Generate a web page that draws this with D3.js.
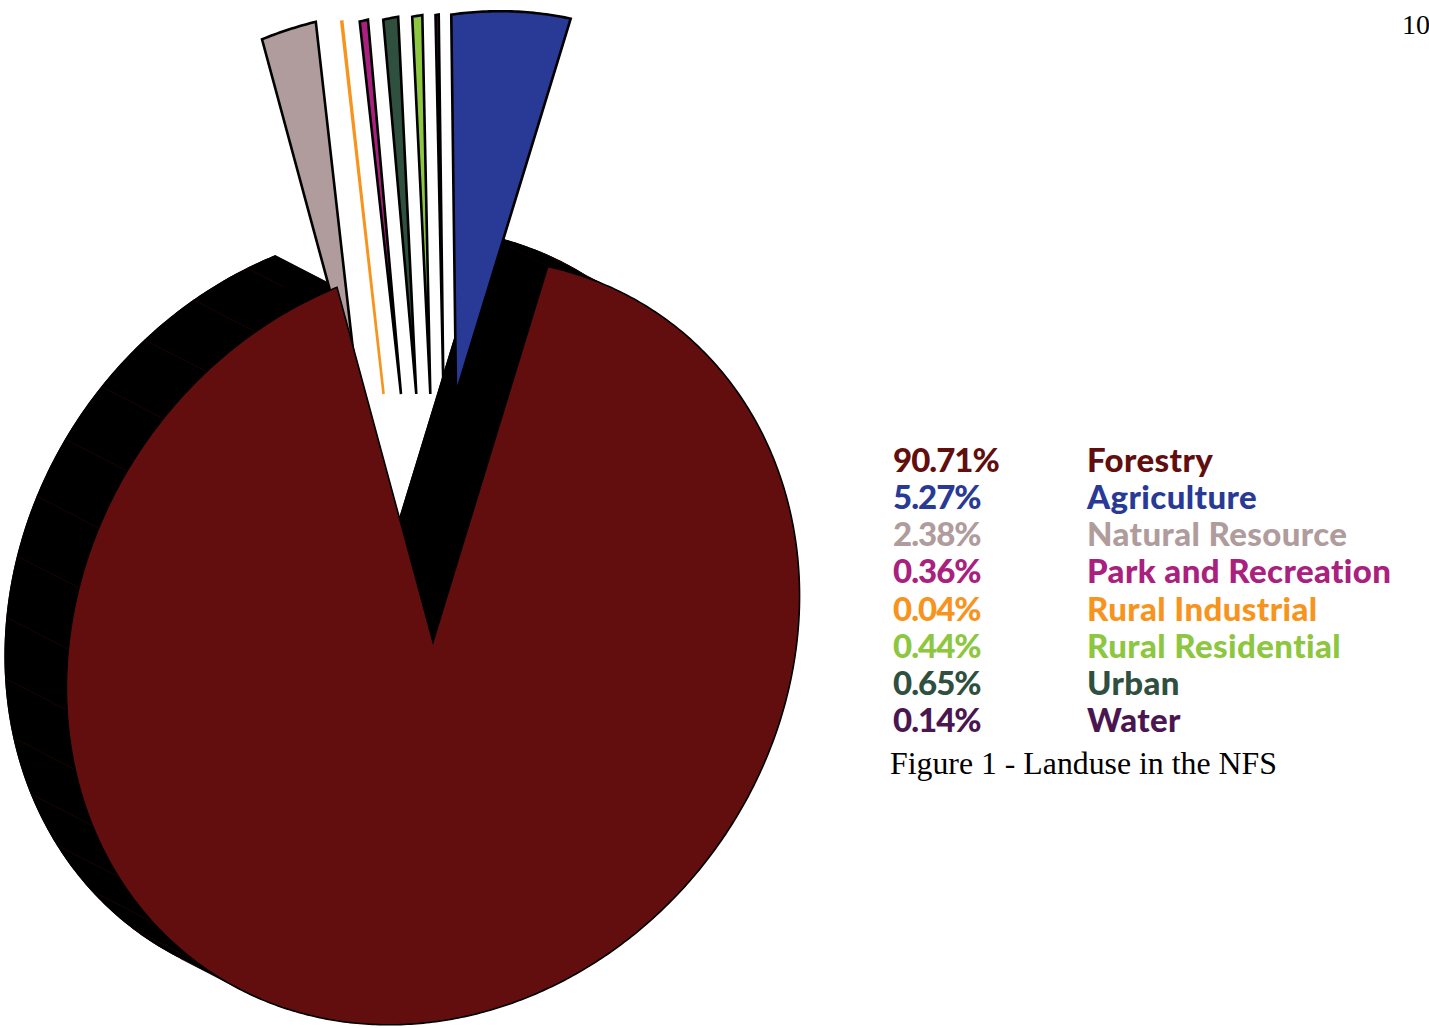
<!DOCTYPE html>
<html>
<head>
<meta charset="utf-8">
<script src="https://cdn.jsdelivr.net/npm/d3@7"></script>
<style>
  html, body { margin: 0; padding: 0; background: #ffffff; }
  svg { display: block; }
</style>
</head>
<body>
<svg id="chart" width="1429" height="1028"></svg>
<script>
// ---------------- DATA ----------------
const categories = ["Forestry", "Agriculture", "Natural Resource", "Park and Recreation",
                    "Rural Industrial", "Rural Residential", "Urban", "Water"];
const percentages = [90.71, 5.27, 2.38, 0.36, 0.04, 0.44, 0.65, 0.14];
// clockwise order of the slices in the pie, starting with the big one
const pieOrder = ["Forestry", "Natural Resource", "Rural Industrial", "Park and Recreation",
                  "Urban", "Rural Residential", "Water", "Agriculture"];
const captionText = "Figure 1 - Landuse in the NFS";
const pageNumber = "10";

// ---------------- STYLE / LAYOUT ----------------
const palette = ["#620E0E", "#283A96", "#B09C9C", "#A9207E", "#F7941D", "#8DC63F", "#30503F", "#4A1650"];
const color = d3.scaleOrdinal(categories, palette);

const W = 1429, H = 1028;
const center = [433, 642];          // apex of the main slice
const semiMajor = 398, semiMinor = 350;
const axisAngle = 54.9 * Math.PI / 180;   // tilt of the projected disc
const e1 = [Math.cos(axisAngle), -Math.sin(axisAngle)];
const e2 = [Math.sin(axisAngle), Math.cos(axisAngle)];
const rotation = -20.4 * Math.PI / 180;   // first slice start angle
const depth = [-62, -32];                 // extrusion of the 3D body
const explodeLift = 248;
const fanRange = [-75, 23];

const svg = d3.select("#chart");

function rim(t) {
  const c = Math.cos(t) * semiMajor, s = Math.sin(t) * semiMinor;
  return [c * e1[0] + s * e2[0], c * e1[1] + s * e2[1]];
}

const pie = d3.pie().sort(null).value(d => d.value);
const pieData = pieOrder.map(name => ({ name, value: percentages[categories.indexOf(name)] }));
const arcs = pie(pieData);
arcs.forEach(d => { d.t0 = d.startAngle + rotation; d.t1 = d.endAngle + rotation; });

const main = arcs[0];
const exploded = arcs.slice(1);
const fanX = d3.scalePow().exponent(0.75).domain([0, exploded.length - 1]).range(fanRange);
main.origin = center.slice();
exploded.forEach((d, i) => { d.origin = [center[0] + fanX(i), center[1] - explodeLift]; });

const step = Math.PI / 360;
function rimPoints(d, ta, tb, off) {
  const n = Math.max(1, Math.ceil(Math.abs(tb - ta) / step));
  const pts = [];
  for (let i = 0; i <= n; i++) {
    const t = ta + (tb - ta) * i / n;
    const p = rim(t);
    pts.push([d.origin[0] + p[0] + off[0], d.origin[1] + p[1] + off[1]]);
  }
  return pts;
}
function slicePoints(d, off = [0, 0]) {
  return [[d.origin[0] + off[0], d.origin[1] + off[1]]].concat(rimPoints(d, d.t0, d.t1, off));
}
const closed = d3.line().curve(d3.curveLinearClosed);
const open = d3.line();

// ---- 3D body of the main slice ----
const body = svg.append("g");
body.append("path")
  .attr("d", closed(slicePoints(main, depth)))
  .attr("fill", "#000");

// outer wall, in facets
const facetStep = 9.2 * Math.PI / 180;
const facetTs = d3.range(main.t0, main.t1, facetStep).concat([main.t1]);
for (let i = 0; i < facetTs.length - 1; i++) {
  const front = rimPoints(main, facetTs[i], facetTs[i + 1], [0, 0]);
  const back = rimPoints(main, facetTs[i], facetTs[i + 1], depth).reverse();
  body.append("path").attr("d", closed(front.concat(back))).attr("fill", "#000");
}
facetTs.forEach(t => {
  const p = rim(t);
  const a = [main.origin[0] + p[0], main.origin[1] + p[1]];
  body.append("path")
    .attr("d", open([a, [a[0] + depth[0], a[1] + depth[1]]]))
    .attr("stroke", "#2e0606").attr("stroke-width", 0.6).attr("fill", "none");
});
// radial walls
[main.t0, main.t1].forEach(t => {
  const p = rim(t);
  const o = main.origin;
  const q = [
    [o[0], o[1]], [o[0] + p[0], o[1] + p[1]],
    [o[0] + p[0] + depth[0], o[1] + p[1] + depth[1]], [o[0] + depth[0], o[1] + depth[1]]
  ];
  body.append("path").attr("d", closed(q)).attr("fill", "#000");
});

// ---- exploded slices ----
svg.append("g").selectAll("path")
  .data(exploded)
  .join("path")
  .attr("d", d => closed(slicePoints(d)))
  .attr("fill", d => color(d.data.name))
  .attr("stroke", d => d.data.value < 0.1 ? color(d.data.name) : "#000")
  .attr("stroke-width", 2.6)
  .attr("stroke-linejoin", "miter");

// ---- front face of the main slice ----
svg.append("path")
  .attr("d", closed(slicePoints(main)))
  .attr("fill", color(main.data.name))
  .attr("stroke", "#000")
  .attr("stroke-width", 1.6);

// ---- legend ----
const legendFont = "Lato, 'Noto Sans', sans-serif";
const rowY = d3.scalePoint().domain(categories).range([472, 732]);
const fmt = d3.format(".2f");
const legend = svg.append("g").attr("font-family", legendFont).attr("font-weight", 900).attr("font-size", 33);
legend.selectAll("text.pct")
  .data(categories)
  .join("text")
  .attr("class", "pct")
  .attr("x", 893)
  .attr("y", d => rowY(d))
  .attr("fill", d => color(d))
  .attr("letter-spacing", -1.0)
  .text((d, i) => fmt(percentages[i]) + "%");
legend.selectAll("text.name")
  .data(categories)
  .join("text")
  .attr("class", "name")
  .attr("x", 1087)
  .attr("y", d => rowY(d))
  .attr("fill", d => color(d))
  .attr("letter-spacing", 0.4)
  .text(d => d);

svg.append("text")
  .attr("x", 890).attr("y", 774)
  .attr("font-family", "'Liberation Serif', 'Times New Roman', serif")
  .attr("font-size", 31.8)
  .attr("fill", "#000")
  .text(captionText);

svg.append("text")
  .attr("x", 1402).attr("y", 34)
  .attr("font-family", "'Liberation Serif', 'Times New Roman', serif")
  .attr("font-size", 28)
  .attr("fill", "#000")
  .text(pageNumber);
</script>
</body>
</html>
